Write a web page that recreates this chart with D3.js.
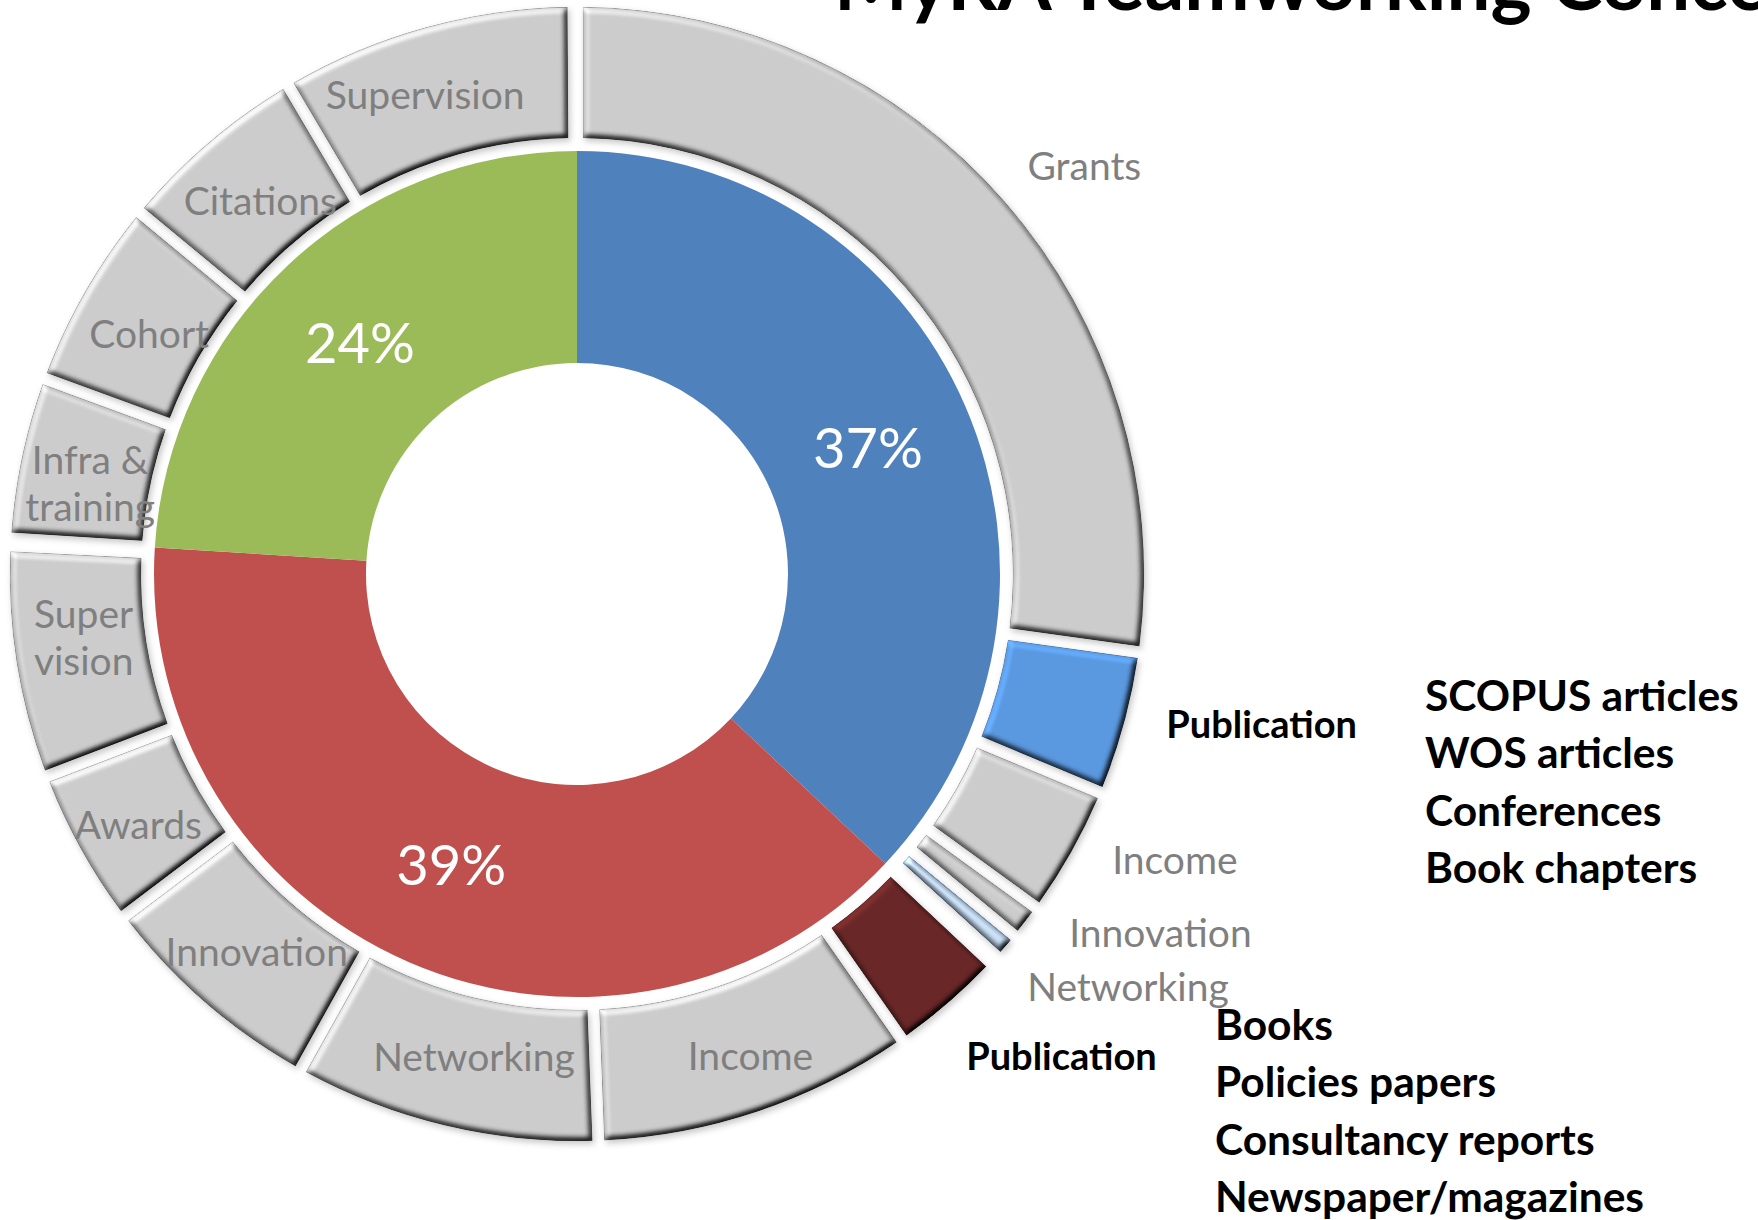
<!DOCTYPE html>
<html>
<head>
<meta charset="utf-8">
<script src="https://cdn.jsdelivr.net/npm/d3@7"></script>
<style>
  html, body { margin: 0; padding: 0; background: #fff; }
  svg { display: block; font-family: Lato, "Open Sans", sans-serif; }
</style>
</head>
<body>
<svg id="chart" width="1758" height="1220"></svg>
<script>
// inner ring (share of the three groups, %)
const innerValues = [37, 39, 24];
const innerLabels = ["37%", "39%", "24%"];

// outer ring, each item belongs to one inner group (values in % of the circle)
const outerLabels = ["Grants", "Publication", "Income", "Innovation", "Networking",
  "Publication", "Income", "Networking", "Innovation", "Awards", "Super vision",
  "Infra & training", "Cohort", "Citations", "Supervision"];
const outerGroup = [0, 0, 0, 0, 0, 1, 1, 1, 1, 1, 1, 2, 2, 2, 2];
const outerValues = [27.2, 4.1, 3.7, 1.0, 0.75, 3.3, 9.1, 8.7, 6.6, 4.5, 6.6, 4.6, 5.4, 5.5, 8.4];

const blueItems = ["SCOPUS articles", "WOS articles", "Conferences", "Book chapters"];
const redItems = ["Books", "Policies papers", "Consultancy reports", "Newspaper/magazines"];

// styling
const innerColors = ["#4F81BD", "#C0504D", "#9BBB59"];
const outerGrey = "#CCCCCC";
const outerSpecial = { 1: "#5A98DF", 4: "#C8DEF4", 5: "#6A2727" };
// labels that sit outside the ring: [angle in degrees, radius]
const outsideLabel = { 0: [51.2, 651], 1: [102.4, 701], 2: [115.6, 663], 3: [121.6, 685], 4: [126.9, 689], 5: [134.9, 684] };
// small shifts of the labels drawn inside their segment
const labelNudge = { 6: [14, 7], 7: [14, -4], 8: [9, 0], 9: [0, 8], 10: [2, -15], 11: [4, 13], 12: [7, 10], 13: [9, 9], 14: [-18, 5] };
const boldLabel = { 1: true, 5: true };
const lineBreaks = { "Infra & training": ["Infra &", "training"], "Super vision": ["Super", "vision"] };

const svg = d3.select("#chart");
const cx = 577, cy = 574;
const r = { hole: 211, inner: 423, ring0: 436, ring1: 567 };

// bevel + shadow look for the outer ring (region given in the group's coordinates)
const defs = svg.append("defs");
const f = defs.append("filter").attr("id", "bevel")
  .attr("filterUnits", "userSpaceOnUse")
  .attr("x", -cx).attr("y", -cy).attr("width", 1758).attr("height", 1220)
  .attr("color-interpolation-filters", "sRGB");
f.append("feGaussianBlur").attr("in", "SourceAlpha").attr("stdDeviation", 3.4).attr("result", "b");
f.append("feDiffuseLighting").attr("in", "b").attr("surfaceScale", 5)
  .attr("diffuseConstant", 1.0).attr("lighting-color", "#fff").attr("result", "light")
  .append("feDistantLight").attr("azimuth", 235).attr("elevation", 55);
f.append("feComposite").attr("in", "SourceGraphic").attr("in2", "light")
  .attr("operator", "arithmetic").attr("k1", 1.22).attr("k2", 0).attr("k3", 0).attr("k4", 0)
  .attr("result", "shaded");
f.append("feComposite").attr("in", "shaded").attr("in2", "SourceAlpha").attr("operator", "in").attr("result", "shape");
f.append("feGaussianBlur").attr("in", "SourceAlpha").attr("stdDeviation", 3).attr("result", "sb");
f.append("feOffset").attr("in", "sb").attr("dx", 2).attr("dy", 3).attr("result", "so");
f.append("feFlood").attr("flood-color", "#000").attr("flood-opacity", 0.22);
f.append("feComposite").attr("in2", "so").attr("operator", "in").attr("result", "shadow");
const m = f.append("feMerge");
m.append("feMergeNode").attr("in", "shadow");
m.append("feMergeNode").attr("in", "shape");

const g = svg.append("g").attr("transform", `translate(${cx},${cy})`);

// inner ring
const pie = d3.pie().sort(null).value(d => d);
const innerArcs = pie(innerValues);
const innerArc = d3.arc().innerRadius(r.hole).outerRadius(r.inner);

g.selectAll(".inner").data(innerArcs).join("path")
  .attr("class", "inner")
  .attr("d", innerArc)
  .attr("fill", (d, i) => innerColors[i]);

g.selectAll(".pct").data(innerArcs).join("text")
  .attr("class", "pct")
  .attr("transform", d => `translate(${innerArc.centroid(d)})`)
  .attr("text-anchor", "middle")
  .attr("dy", "0.36em")
  .attr("fill", "#fff")
  .attr("font-size", 56)
  .text((d, i) => innerLabels[i]);

// outer ring, laid out inside each parent arc
const angle = d3.scaleLinear().domain([0, 100]).range([0, 2 * Math.PI]);
const used = innerValues.map(() => 0);
const outerArcs = outerValues.map((v, i) => {
  const p = outerGroup[i];
  const s = innerArcs[p].startAngle + angle(used[p]);
  used[p] += v;
  return { i, label: outerLabels[i], startAngle: s, endAngle: s + angle(v) };
});

const outerArc = d3.arc().innerRadius(r.ring0).outerRadius(r.ring1)
  .padAngle(0.024).padRadius(500);

g.selectAll(".outer").data(outerArcs).join("path")
  .attr("class", "outer")
  .attr("d", outerArc)
  .attr("fill", d => outerSpecial[d.i] || outerGrey)
  .attr("stroke", d => d.i === 4 ? "#8DB3DA" : "rgba(0,0,0,0.2)")
  .attr("stroke-width", 1.2)
  .attr("filter", "url(#bevel)");

// outer labels
const lab = g.selectAll(".lab").data(outerArcs).join("text")
  .attr("class", "lab")
  .attr("transform", d => {
    const o = outsideLabel[d.i];
    if (o) {
      const a = o[0] * Math.PI / 180;
      return `translate(${o[1] * Math.sin(a)},${-o[1] * Math.cos(a)})`;
    }
    const [x, y] = outerArc.centroid(d);
    const n = labelNudge[d.i] || [0, 0];
    return `translate(${x + n[0]},${y + n[1]})`;
  })
  .attr("text-anchor", "middle")
  .attr("fill", d => boldLabel[d.i] ? "#000" : "#7F7F7F")
  .attr("font-weight", d => boldLabel[d.i] ? 700 : 400)
  .attr("font-size", d => boldLabel[d.i] ? 38 : 39);

lab.each(function (d) {
  const t = d3.select(this);
  const lines = lineBreaks[d.label];
  if (lines) {
    lines.forEach((ln, k) => {
      t.append("tspan").attr("x", 0)
        .attr("dy", k === 0 ? `${0.35 - 0.6}em` : "1.2em")
        .text(ln);
    });
  } else {
    t.attr("dy", "0.35em").text(d.label);
  }
});

// item lists next to the two Publication segments
const lineH = 57.5;
const lists = [
  { items: blueItems, x: 1425, y: 696 },
  { items: redItems, x: 1215, y: 1025 }
];
lists.forEach(l => {
  svg.append("g").selectAll("text").data(l.items).join("text")
    .attr("x", l.x)
    .attr("y", (d, k) => l.y + k * lineH)
    .attr("dy", "0.35em")
    .attr("font-size", 42.5)
    .attr("font-weight", 700)
    .attr("fill", "#000")
    .text(d => d);
});

// title, cut by the top edge as in the original slide
svg.append("text")
  .attr("x", 834).attr("y", 10)
  .attr("font-size", 78)
  .attr("font-weight", 700)
  .attr("fill", "#000")
  .text("MyRA Teamworking Concept");
</script>
</body>
</html>
